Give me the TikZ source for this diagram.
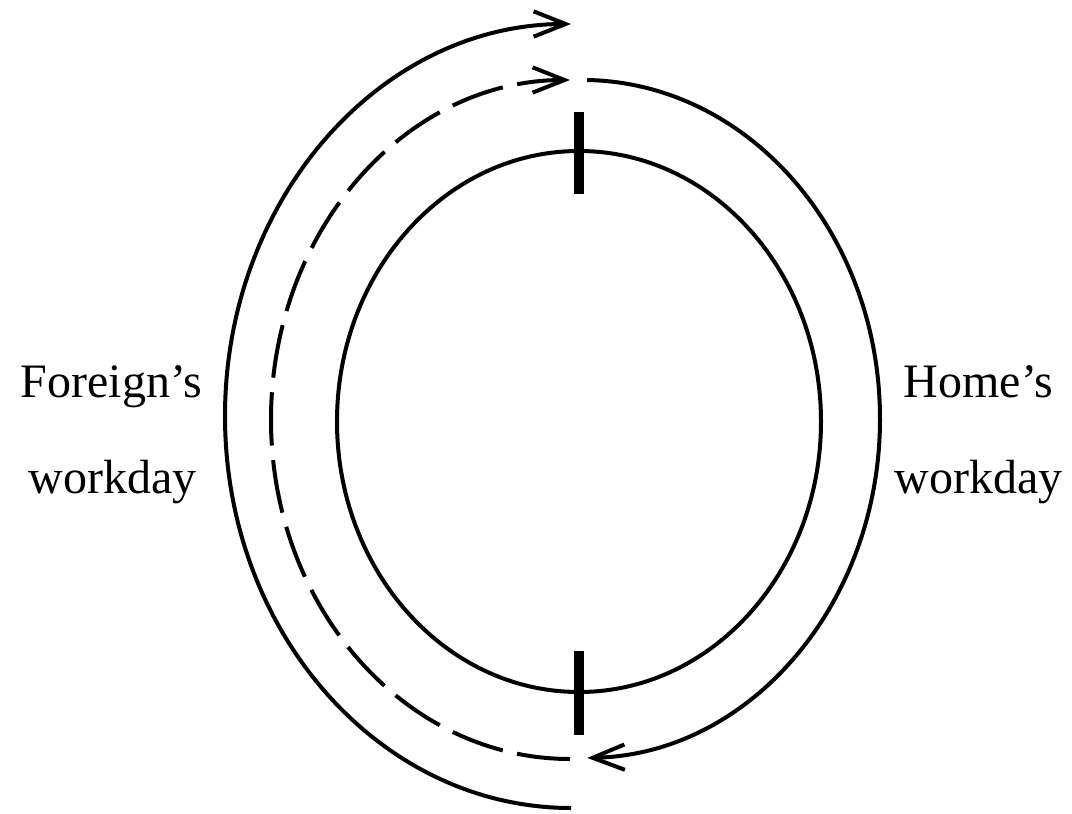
\documentclass[tikz,border=0pt]{standalone}
\usepackage{fontspec}
\setmainfont{Liberation Serif}
\usetikzlibrary{arrows.meta}

\begin{document}
\begin{tikzpicture}[x=0.75pt,y=-0.75pt,line width=3pt,
    >={Straight Barb[length=24pt,width=19pt,line width=3pt]},
    lbl/.style={anchor=base,inner sep=0pt,font=\fontsize{36}{72}\selectfont},
    dashy/.style={dash pattern=on 40pt off 11pt}]
  \useasboundingbox (0,0) rectangle (1072,814);
  \draw (579,421.5) ellipse[x radius=242,y radius=270.5];
  \foreach \n/\ya/\yb in {top/112/194,bot/651/735}
  {
    \coordinate (\n a) at (579,\ya);
    \coordinate (\n b) at (579,\yb);
    \draw[line width=8pt] (\n a) -- (\n b);
  }
  \coordinate (outlow) at (571,808);
  \coordinate (dashlow) at (570,759);
  \coordinate (hometop) at (587.2,80);
  \draw[->] (outlow) arc[start angle=90,end angle=270,x radius=346,y radius=392];
  \draw[->,dashy] (dashlow) arc[start angle=90,end angle=270,x radius=299,y radius=339.5];
  \draw[->] (hometop) arc[start angle=-89,end angle=89,x radius=298,y radius=339];
  \node[lbl] (foreign) at (111.5,397) {Foreign’s};
  \node[lbl] (foreignday) at (112.5,493) {workday};
  \node[lbl] (home) at (978.5,397) {Home’s};
  \node[lbl] (homeday) at (978.5,493) {workday};
\end{tikzpicture}
\end{document}
